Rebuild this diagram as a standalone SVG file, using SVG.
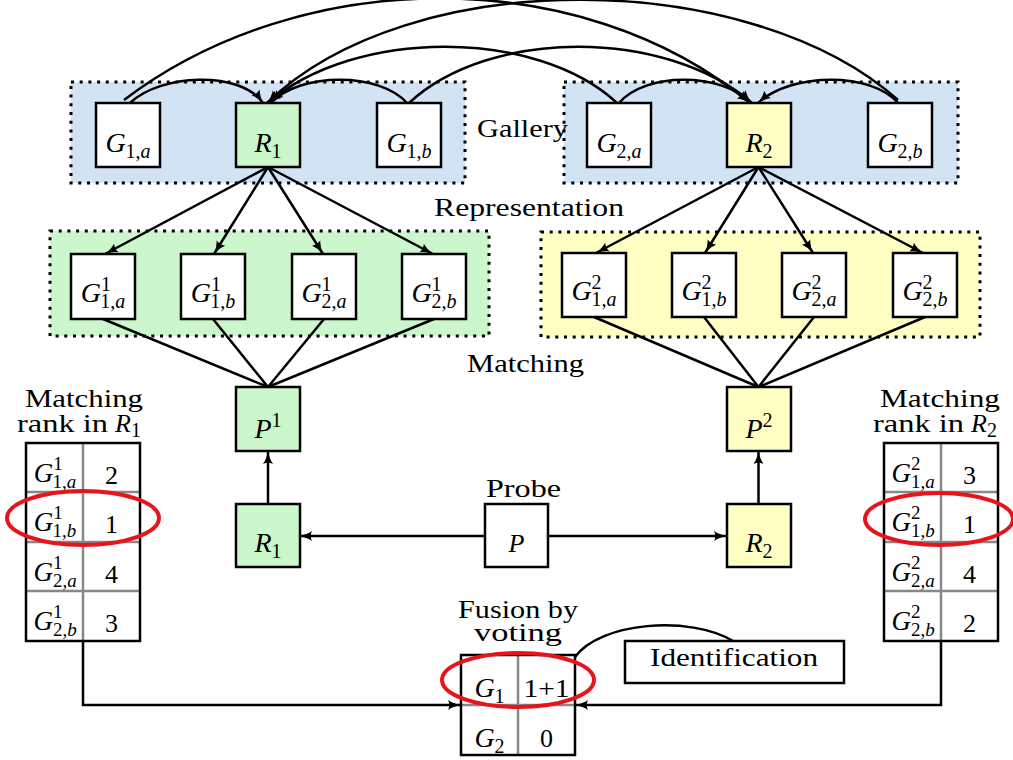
<svg xmlns="http://www.w3.org/2000/svg" width="1013" height="760" viewBox="0 0 1013 760" font-family="'Liberation Serif', 'Times New Roman', serif">
<defs>
<style>
text{font-family:"Liberation Serif","Times New Roman",serif;font-size:26px;fill:#000}
.i{font-style:italic}
.s{font-size:20px}
.ss{font-size:19px}
.box{stroke:#000;stroke-width:2.5}
.w{fill:#fff}
.gr{fill:#ccf7cc}
.ye{fill:#ffffc4}
.pan{stroke:#000;stroke-width:3;stroke-dasharray:3 5.7}
.conn{fill:none;stroke:#000;stroke-width:2.5}
.grid{stroke:#888;stroke-width:2.5}
.ell{fill:none;stroke:#e8141c;stroke-width:4}
</style>
<marker id="arr" viewBox="0 0 14 11" refX="13" refY="5.5" markerWidth="14" markerHeight="11" orient="auto" markerUnits="userSpaceOnUse">
<path d="M0,0.5 Q5,4.2 13.5,5.5 Q5,6.8 0,10.5 Q2.5,5.5 0,0.5 z" fill="#000"/>
</marker>
</defs>

<g id="panels">
<rect x="71" y="82" width="394" height="101" fill="#d2e4f4" class="pan"/>
<rect x="564" y="82" width="394" height="101" fill="#d2e4f4" class="pan"/>
<rect x="50" y="231" width="439" height="105" fill="#ccf7cc" class="pan"/>
<rect x="541" y="232" width="439" height="105" fill="#ffffc4" class="pan"/>
</g>

<g id="labels">
<text x="477" y="137" textLength="91" lengthAdjust="spacingAndGlyphs">Gallery</text>
<text x="434" y="216" textLength="190" lengthAdjust="spacingAndGlyphs">Representation</text>
<text x="467" y="372" textLength="117" lengthAdjust="spacingAndGlyphs">Matching</text>
<text x="486" y="497" textLength="75" lengthAdjust="spacingAndGlyphs">Probe</text>
<text x="458" y="618" textLength="120" lengthAdjust="spacingAndGlyphs">Fusion by</text>
<text x="474" y="641" textLength="88" lengthAdjust="spacingAndGlyphs">voting</text>
<text x="25" y="407" textLength="118" lengthAdjust="spacingAndGlyphs">Matching</text>
<text x="17" y="432" textLength="91" lengthAdjust="spacingAndGlyphs">rank in</text>
<text x="115" y="432"><tspan class="i">R</tspan><tspan class="s" dy="5">1</tspan></text>
<text x="880" y="407" textLength="120" lengthAdjust="spacingAndGlyphs">Matching</text>
<text x="873" y="432" textLength="91" lengthAdjust="spacingAndGlyphs">rank in</text>
<text x="971" y="432"><tspan class="i">R</tspan><tspan class="s" dy="5">2</tspan></text>
</g>

<g id="connectors">
<path class="conn" marker-end="url(#arr)" d="M130,103 C160,74 240,70 263,103"/>
<path class="conn" marker-end="url(#arr)" d="M407,103 C380,72 300,72 271,103"/>
<path class="conn" marker-end="url(#arr)" d="M619,103 C645,72 722,72 751,103"/>
<path class="conn" marker-end="url(#arr)" d="M898,103 C872,72 792,72 758,103"/>
<path class="conn" marker-end="url(#arr)" d="M409,103 C490,28 665,28 752,103"/>
<path class="conn" marker-end="url(#arr)" d="M617,103 C536,28 355,28 268,103"/>
<path class="conn" marker-end="url(#arr)" d="M124,100 C300,-34 580,-38 750,103"/>
<path class="conn" marker-end="url(#arr)" d="M898,100 C750,-32 410,-36 267,103"/>
<path class="conn" marker-end="url(#arr)" d="M268,167 L105,254"/>
<path class="conn" marker-end="url(#arr)" d="M268,167 L214,254"/>
<path class="conn" marker-end="url(#arr)" d="M268,167 L323,254"/>
<path class="conn" marker-end="url(#arr)" d="M268,167 L433,254"/>
<path class="conn" marker-end="url(#arr)" d="M758.5,167 L596,253"/>
<path class="conn" marker-end="url(#arr)" d="M758.5,167 L705,253"/>
<path class="conn" marker-end="url(#arr)" d="M758.5,167 L813,253"/>
<path class="conn" marker-end="url(#arr)" d="M758.5,167 L923,253"/>
<path class="conn" d="M103,319 L268,387 M213,319 L268,387 M324,319 L268,387 M434,319 L268,387"/>
<path class="conn" d="M594,317 L758.5,387 M704,317 L758.5,387 M814,317 L758.5,387 M925,317 L758.5,387"/>
<path class="conn" marker-end="url(#arr)" d="M268,504 L268,451"/>
<path class="conn" marker-end="url(#arr)" d="M758.5,504 L758.5,451"/>
<path class="conn" marker-end="url(#arr)" d="M485,536 L299,536"/>
<path class="conn" marker-end="url(#arr)" d="M548,536 L727,536"/>
<path class="conn" marker-end="url(#arr)" d="M83,641 V705 H461"/>
<path class="conn" marker-end="url(#arr)" d="M941,641 V705 H575"/>
<path class="conn" d="M575,657 C600,622 690,615 733,641"/>
</g>

<g id="G1a"><rect class="box w" x="96" y="103" width="64" height="64"/><text x="128" y="152" text-anchor="middle"><tspan class="i" font-size="28">G</tspan><tspan class="s" dy="6">1,</tspan><tspan class="s i">a</tspan></text></g>
<g id="R1"><rect class="box gr" x="236" y="103" width="64" height="64"/><text x="268" y="152" text-anchor="middle"><tspan class="i" font-size="28">R</tspan><tspan class="s" dy="6">1</tspan></text></g>
<g id="G1b"><rect class="box w" x="377" y="103" width="64" height="64"/><text x="409" y="152" text-anchor="middle"><tspan class="i" font-size="28">G</tspan><tspan class="s" dy="6">1,</tspan><tspan class="s i">b</tspan></text></g>
<g id="G2a"><rect class="box w" x="587" y="103" width="64" height="64"/><text x="619" y="152" text-anchor="middle"><tspan class="i" font-size="28">G</tspan><tspan class="s" dy="6">2,</tspan><tspan class="s i">a</tspan></text></g>
<g id="R2"><rect class="box ye" x="727" y="103" width="64" height="64"/><text x="759" y="152" text-anchor="middle"><tspan class="i" font-size="28">R</tspan><tspan class="s" dy="6">2</tspan></text></g>
<g id="G2b"><rect class="box w" x="868" y="103" width="64" height="64"/><text x="900" y="152" text-anchor="middle"><tspan class="i" font-size="28">G</tspan><tspan class="s" dy="6">2,</tspan><tspan class="s i">b</tspan></text></g>

<g id="G11a_1"><rect class="box w" x="71" y="254" width="64" height="65"/><text x="103" y="302" text-anchor="middle"><tspan class="i" font-size="28">G</tspan><tspan class="s" dy="-11">1</tspan><tspan class="s" dx="-10" dy="17">1,</tspan><tspan class="s i">a</tspan></text></g>
<g id="G11b_1"><rect class="box w" x="181" y="254" width="64" height="65"/><text x="213" y="302" text-anchor="middle"><tspan class="i" font-size="28">G</tspan><tspan class="s" dy="-11">1</tspan><tspan class="s" dx="-10" dy="17">1,</tspan><tspan class="s i">b</tspan></text></g>
<g id="G12a_1"><rect class="box w" x="292" y="254" width="64" height="65"/><text x="324" y="302" text-anchor="middle"><tspan class="i" font-size="28">G</tspan><tspan class="s" dy="-11">1</tspan><tspan class="s" dx="-10" dy="17">2,</tspan><tspan class="s i">a</tspan></text></g>
<g id="G12b_1"><rect class="box w" x="402" y="254" width="64" height="65"/><text x="434" y="302" text-anchor="middle"><tspan class="i" font-size="28">G</tspan><tspan class="s" dy="-11">1</tspan><tspan class="s" dx="-10" dy="17">2,</tspan><tspan class="s i">b</tspan></text></g>

<g id="G11a_2"><rect class="box w" x="562" y="253" width="64" height="64"/><text x="594" y="300" text-anchor="middle"><tspan class="i" font-size="28">G</tspan><tspan class="s" dy="-11">2</tspan><tspan class="s" dx="-10" dy="17">1,</tspan><tspan class="s i">a</tspan></text></g>
<g id="G11b_2"><rect class="box w" x="672" y="253" width="64" height="64"/><text x="704" y="300" text-anchor="middle"><tspan class="i" font-size="28">G</tspan><tspan class="s" dy="-11">2</tspan><tspan class="s" dx="-10" dy="17">1,</tspan><tspan class="s i">b</tspan></text></g>
<g id="G12a_2"><rect class="box w" x="782" y="253" width="64" height="64"/><text x="814" y="300" text-anchor="middle"><tspan class="i" font-size="28">G</tspan><tspan class="s" dy="-11">2</tspan><tspan class="s" dx="-10" dy="17">2,</tspan><tspan class="s i">a</tspan></text></g>
<g id="G12b_2"><rect class="box w" x="893" y="253" width="64" height="64"/><text x="925" y="300" text-anchor="middle"><tspan class="i" font-size="28">G</tspan><tspan class="s" dy="-11">2</tspan><tspan class="s" dx="-10" dy="17">2,</tspan><tspan class="s i">b</tspan></text></g>

<g id="P1"><rect class="box gr" x="236" y="387" width="64" height="64"/><text x="268" y="438" text-anchor="middle"><tspan class="i" font-size="28">P</tspan><tspan class="s" dy="-11">1</tspan></text></g>
<g id="P2"><rect class="box ye" x="727" y="387" width="64" height="64"/><text x="759" y="438" text-anchor="middle"><tspan class="i" font-size="28">P</tspan><tspan class="s" dy="-11">2</tspan></text></g>
<g id="R1b"><rect class="box gr" x="236" y="504" width="64" height="63"/><text x="268" y="552" text-anchor="middle"><tspan class="i" font-size="28">R</tspan><tspan class="s" dy="6">1</tspan></text></g>
<g id="R2b"><rect class="box ye" x="727" y="504" width="64" height="63"/><text x="759" y="552" text-anchor="middle"><tspan class="i" font-size="28">R</tspan><tspan class="s" dy="6">2</tspan></text></g>
<g id="P"><rect class="box w" x="485" y="504" width="63" height="63"/><text x="516.5" y="552" text-anchor="middle" class="i" font-size="28">P</text></g>

<g id="table1">
<rect x="26" y="443" width="114" height="198" fill="#fff"/>
<path class="grid" d="M83,443 V641 M26,492 H140 M26,542 H140 M26,591 H140"/>
<rect x="26" y="443" width="114" height="198" fill="none" class="box"/>
<text x="55" y="482" text-anchor="middle"><tspan class="i" font-size="27">G</tspan><tspan class="ss" dy="-12">1</tspan><tspan class="ss" dx="-9.5" dy="18">1,</tspan><tspan class="ss i">a</tspan></text>
<text x="55" y="531" text-anchor="middle"><tspan class="i" font-size="27">G</tspan><tspan class="ss" dy="-12">1</tspan><tspan class="ss" dx="-9.5" dy="18">1,</tspan><tspan class="ss i">b</tspan></text>
<text x="55" y="581" text-anchor="middle"><tspan class="i" font-size="27">G</tspan><tspan class="ss" dy="-12">1</tspan><tspan class="ss" dx="-9.5" dy="18">2,</tspan><tspan class="ss i">a</tspan></text>
<text x="55" y="630" text-anchor="middle"><tspan class="i" font-size="27">G</tspan><tspan class="ss" dy="-12">1</tspan><tspan class="ss" dx="-9.5" dy="18">2,</tspan><tspan class="ss i">b</tspan></text>
<text x="111.5" y="484" text-anchor="middle" font-size="27">2</text>
<text x="111.5" y="533" text-anchor="middle" font-size="27">1</text>
<text x="111.5" y="583" text-anchor="middle" font-size="27">4</text>
<text x="111.5" y="632" text-anchor="middle" font-size="27">3</text>
</g>

<g id="table2">
<rect x="884" y="443" width="114" height="198" fill="#fff"/>
<path class="grid" d="M941,443 V641 M884,492 H998 M884,542 H998 M884,591 H998"/>
<rect x="884" y="443" width="114" height="198" fill="none" class="box"/>
<text x="913" y="482" text-anchor="middle"><tspan class="i" font-size="27">G</tspan><tspan class="ss" dy="-12">2</tspan><tspan class="ss" dx="-9.5" dy="18">1,</tspan><tspan class="ss i">a</tspan></text>
<text x="913" y="531" text-anchor="middle"><tspan class="i" font-size="27">G</tspan><tspan class="ss" dy="-12">2</tspan><tspan class="ss" dx="-9.5" dy="18">1,</tspan><tspan class="ss i">b</tspan></text>
<text x="913" y="581" text-anchor="middle"><tspan class="i" font-size="27">G</tspan><tspan class="ss" dy="-12">2</tspan><tspan class="ss" dx="-9.5" dy="18">2,</tspan><tspan class="ss i">a</tspan></text>
<text x="913" y="630" text-anchor="middle"><tspan class="i" font-size="27">G</tspan><tspan class="ss" dy="-12">2</tspan><tspan class="ss" dx="-9.5" dy="18">2,</tspan><tspan class="ss i">b</tspan></text>
<text x="969.5" y="484" text-anchor="middle" font-size="27">3</text>
<text x="969.5" y="533" text-anchor="middle" font-size="27">1</text>
<text x="969.5" y="583" text-anchor="middle" font-size="27">4</text>
<text x="969.5" y="632" text-anchor="middle" font-size="27">2</text>
</g>

<g id="fusion">
<rect x="461" y="655" width="114" height="100" fill="#fff"/>
<path class="grid" d="M518,655 V755 M461,705 H575"/>
<rect x="461" y="655" width="114" height="100" fill="none" class="box"/>
<text x="489.5" y="697" text-anchor="middle"><tspan class="i" font-size="28">G</tspan><tspan class="s" dy="6">1</tspan></text>
<text x="546.5" y="697" text-anchor="middle" font-size="28" textLength="46" lengthAdjust="spacingAndGlyphs">1+1</text>
<text x="489.5" y="747" text-anchor="middle"><tspan class="i" font-size="28">G</tspan><tspan class="s" dy="6">2</tspan></text>
<text x="546.5" y="747" text-anchor="middle" font-size="28">0</text>
</g>

<g id="identification">
<rect class="box w" x="625" y="641" width="219" height="42"/>
<text x="650" y="666" textLength="168" lengthAdjust="spacingAndGlyphs">Identification</text>
</g>

<g id="highlights">
<ellipse class="ell" cx="83" cy="518" rx="76" ry="27"/>
<ellipse class="ell" cx="939" cy="519" rx="74" ry="26"/>
<ellipse class="ell" cx="518" cy="680" rx="76" ry="27"/>
</g>
</svg>
